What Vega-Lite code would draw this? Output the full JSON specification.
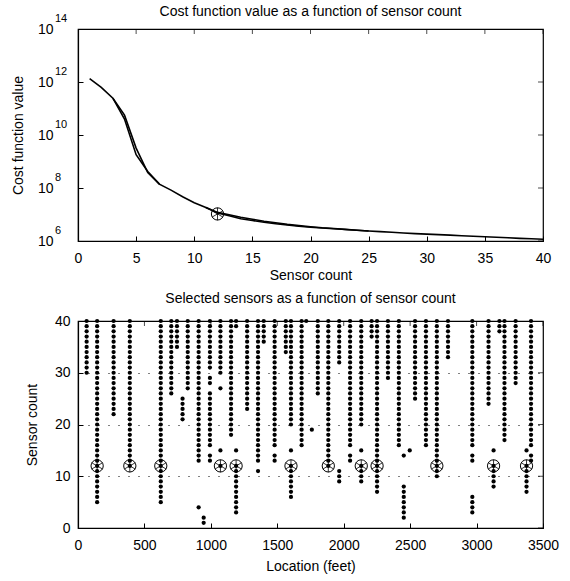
{
  "$schema": "https://vega.github.io/schema/vega-lite/v6.json",
  "background": "white",
  "padding": {"left": 10, "top": 4, "right": 5, "bottom": 5},
  "config": {
    "font": "Liberation Sans",
    "view": {"stroke": "black", "strokeWidth": 1.2},
    "axis": {"domainColor": "black", "tickColor": "black", "labelColor": "black", "titleColor": "black", "labelFontSize": 14, "titleFontSize": 14, "titleFontWeight": "normal", "tickSize": -5, "grid": false, "labelFlush": false, "labelFont": "Liberation Sans", "titleFont": "Liberation Sans", "domainWidth": 1.2},
    "title": {"fontSize": 14, "fontWeight": "normal", "color": "black", "font": "Liberation Sans"},
    "concat": {"spacing": 8}
  },
  "datasets": {
    "cost": [
      {"run": "a", "count": 1, "cost": 1.35e12}, {"run": "a", "count": 2, "cost": 6.3e11}, {"run": "a", "count": 3, "cost": 2.45e11}, {"run": "a", "count": 4, "cost": 4.0e10}, {"run": "a", "count": 5, "cost": 1.8e9}, {"run": "a", "count": 6, "cost": 4.2e8}, {"run": "a", "count": 7, "cost": 1.4e8}, {"run": "a", "count": 8, "cost": 8.3e7}, {"run": "a", "count": 9, "cost": 4.7e7}, {"run": "a", "count": 10, "cost": 2.8e7},
      {"run": "a", "count": 11, "cost": 1.85e7}, {"run": "a", "count": 12, "cost": 1.2e7}, {"run": "a", "count": 13, "cost": 9.8e6}, {"run": "a", "count": 14, "cost": 7.9e6}, {"run": "a", "count": 15, "cost": 6.6e6}, {"run": "a", "count": 16, "cost": 5.6e6}, {"run": "a", "count": 17, "cost": 4.9e6}, {"run": "a", "count": 18, "cost": 4.25e6}, {"run": "a", "count": 19, "cost": 3.8e6}, {"run": "a", "count": 20, "cost": 3.45e6},
      {"run": "a", "count": 21, "cost": 3.15e6}, {"run": "a", "count": 22, "cost": 2.95e6}, {"run": "a", "count": 23, "cost": 2.75e6}, {"run": "a", "count": 24, "cost": 2.55e6}, {"run": "a", "count": 25, "cost": 2.4e6}, {"run": "a", "count": 26, "cost": 2.25e6}, {"run": "a", "count": 27, "cost": 2.13e6}, {"run": "a", "count": 28, "cost": 2.0e6}, {"run": "a", "count": 29, "cost": 1.9e6}, {"run": "a", "count": 30, "cost": 1.82e6},
      {"run": "a", "count": 31, "cost": 1.74e6}, {"run": "a", "count": 32, "cost": 1.66e6}, {"run": "a", "count": 33, "cost": 1.58e6}, {"run": "a", "count": 34, "cost": 1.51e6}, {"run": "a", "count": 35, "cost": 1.45e6}, {"run": "a", "count": 36, "cost": 1.38e6}, {"run": "a", "count": 37, "cost": 1.32e6}, {"run": "a", "count": 38, "cost": 1.26e6}, {"run": "a", "count": 39, "cost": 1.22e6}, {"run": "a", "count": 40, "cost": 1.17e6},
      {"run": "b", "count": 3, "cost": 2.45e11}, {"run": "b", "count": 4, "cost": 5.6e10}, {"run": "b", "count": 5, "cost": 3.2e9}, {"run": "b", "count": 6, "cost": 3.8e8}, {"run": "b", "count": 7, "cost": 1.4e8},
      {"run": "c", "count": 11, "cost": 1.85e7}, {"run": "c", "count": 12, "cost": 1.15e7}, {"run": "c", "count": 13, "cost": 8.9e6}, {"run": "c", "count": 14, "cost": 6.9e6}, {"run": "c", "count": 15, "cost": 5.9e6}, {"run": "c", "count": 16, "cost": 5.1e6}, {"run": "c", "count": 17, "cost": 4.5e6}, {"run": "c", "count": 18, "cost": 4.0e6}, {"run": "c", "count": 19, "cost": 3.6e6}, {"run": "c", "count": 20, "cost": 3.3e6}, {"run": "c", "count": 22, "cost": 2.9e6}, {"run": "c", "count": 25, "cost": 2.4e6}
    ],
    "chosen": [{"count": 12, "cost": 1.05e7}],
    "ctick": [{"count": 0}, {"count": 5}, {"count": 10}, {"count": 15}, {"count": 20}, {"count": 25}, {"count": 30}, {"count": 35}, {"count": 40}],
    "exps": [{"cost": 1e6, "e": "6"}, {"cost": 1e8, "e": "8"}, {"cost": 1e10, "e": "10"}, {"cost": 1e12, "e": "12"}, {"cost": 1e14, "e": "14"}],
    "sel": [
      {"loc": 65, "n": [30,31,32,33,34,35,36,37,38,39,40]},
      {"loc": 144, "n": [5,6,7,8,9,10,11,12,13,14,15,16,17,18,19,20,21,22,23,24,25,26,27,28,29,30,31,32,33,34,35,36,37,38,39,40]},
      {"loc": 268, "n": [22,23,24,25,26,27,28,29,30,31,32,33,34,35,36,37,38,39,40]},
      {"loc": 390, "n": [12,13,14,15,16,17,18,19,20,21,22,23,24,25,26,27,28,29,30,31,32,33,34,35,36,37,38,39,40]},
      {"loc": 623, "n": [5,6,7,8,9,10,11,12,13,14,15,16,17,18,19,20,21,22,23,24,25,26,27,28,29,30,31,32,33,34,35,36,37,38,39,40]},
      {"loc": 702, "n": [26,27,28,29,30,31,32,33,34,35,36,37,38,39,40]},
      {"loc": 745, "n": [35,36,37,38,39,40]},
      {"loc": 787, "n": [21,22,23,24,25]},
      {"loc": 826, "n": [27,28,29,30,31,32,33,34,35,36,37,38,39,40]},
      {"loc": 908, "n": [4,13,14,15,16,17,18,19,20,21,22,23,24,25,26,27,28,29,30,31,32,33,34,35,36,37,38,39,40]},
      {"loc": 946, "n": [1,2]},
      {"loc": 993, "n": [13,14,16,17,18,19,20,21,22,23,24,25,26,28,29,31,32,33,34,35,36,37,38,39,40]},
      {"loc": 1072, "n": [12,15,27,30,31,32,33,34,35,36,37,38,39,40]},
      {"loc": 1152, "n": [18,19,20,21,22,23,24,25,26,27,28,29,30,31,32,33,34,35,36,37,38,39,40]},
      {"loc": 1190, "n": [3,4,5,6,7,8,9,10,11,12,15,39,40]},
      {"loc": 1273, "n": [23,24,25,26,27,28,29,30,31,32,33,34,35,36,37,38,39,40]},
      {"loc": 1355, "n": [11,13,14,15,16,17,18,19,20,21,22,23,24,25,26,27,28,29,30,31,32,33,34,35,36,37,38,39,40]},
      {"loc": 1398, "n": [36,37,38,39,40]},
      {"loc": 1480, "n": [13,14,16,17,18,19,20,21,22,23,24,25,26,27,28,29,30,31,32,33,34,35,36,37,38,39,40]},
      {"loc": 1564, "n": [34,35,36,37,38,39,40]},
      {"loc": 1603, "n": [6,7,8,9,10,11,12,15,20,21,22,23,24,25,26,27,28,29,30,31,32,33,34,35,36,37,38,39,40]},
      {"loc": 1683, "n": [16,17,18,19,20,21,22,23,24,25,26,27,28,29,30,31,32,33,34,35,36,37,38,39,40]},
      {"loc": 1718, "n": [40]},
      {"loc": 1760, "n": [19]},
      {"loc": 1805, "n": [26,27,28,29,30,31,32,33,34,35,36,37,38,39,40]},
      {"loc": 1884, "n": [12,13,14,15,16,17,18,19,20,21,22,23,24,25,26,27,28,29,30,31,32,33,34,35,36,37,38,39,40]},
      {"loc": 1966, "n": [9,10,11,32,33,34,35,36,37,38,39,40]},
      {"loc": 2048, "n": [13,14,16,17,18,19,20,21,22,23,24,25,26,27,28,29,30,31,32,33,34,35,36,37,38,39,40]},
      {"loc": 2132, "n": [9,10,11,12,15,20,21,22,23,24,25,26,27,28,29,30,31,32,33,34,35,36,37,38,39,40]},
      {"loc": 2210, "n": [37,38,39,40]},
      {"loc": 2251, "n": [7,8,9,10,11,12,13,14,15,16,17,18,19,20,21,22,23,24,25,26,27,28,29,30,31,32,33,34,35,36,37,38,39,40]},
      {"loc": 2333, "n": [29,30,31,32,33,34,35,36,37,38,39,40]},
      {"loc": 2415, "n": [16,17,18,19,20,21,22,23,24,25,26,27,28,29,30,31,32,33,34,35,36,37,38,39,40]},
      {"loc": 2452, "n": [2,3,4,5,6,7,8,14]},
      {"loc": 2497, "n": [15]},
      {"loc": 2537, "n": [25,26,27,28,29,30,31,32,33,34,35,36,37,38,39,40]},
      {"loc": 2619, "n": [16,17,18,19,20,21,22,23,24,25,26,27,28,29,30,31,32,33,34,35,36,37,38,39,40]},
      {"loc": 2701, "n": [10,11,12,13,14,15,16,17,18,19,20,21,22,23,24,25,26,27,28,29,30,31,32,33,34,35,36,37,38,39,40]},
      {"loc": 2785, "n": [33,34,35,36,37,38,39,40]},
      {"loc": 2968, "n": [3,4,5,6,13,14,16,17,18,19,20,21,22,23,24,25,26,27,28,29,30,31,32,33,34,35,36,37,38,39,40]},
      {"loc": 3090, "n": [24,25,26,27,28,29,30,31,32,33,34,35,36,37,38,39,40]},
      {"loc": 3128, "n": [8,9,10,11,12,15]},
      {"loc": 3172, "n": [38,39,40]},
      {"loc": 3210, "n": [17,18,19,20,21,22,23,24,25,26,27,28,29,30,31,32,33,34,35,36,37,38,39,40]},
      {"loc": 3294, "n": [28,29,30,31,32,33,34,35,36,37,38,39,40]},
      {"loc": 3376, "n": [7,8,9,10,11,12,15]},
      {"loc": 3410, "n": [13,14,16,17,18,19,20,21,22,23,24,25,26,27,28,29,30,31,32,33,34,35,36,37,38,39,40]}
    ],
    "picks": [{"loc": 144, "n": 12}, {"loc": 390, "n": 12}, {"loc": 623, "n": 12}, {"loc": 1072, "n": 12}, {"loc": 1190, "n": 12}, {"loc": 1603, "n": 12}, {"loc": 1884, "n": 12}, {"loc": 2132, "n": 12}, {"loc": 2251, "n": 12}, {"loc": 2701, "n": 12}, {"loc": 3128, "n": 12}, {"loc": 3376, "n": 12}],
    "ltick": [{"loc": 0}, {"loc": 500}, {"loc": 1000}, {"loc": 1500}, {"loc": 2000}, {"loc": 2500}, {"loc": 3000}, {"loc": 3500}],
    "ntick": [{"n": 0}, {"n": 10}, {"n": 20}, {"n": 30}, {"n": 40}]
  },
  "vconcat": [
    {
      "title": {"text": "Cost function value as a function of sensor count", "offset": -6},
      "width": 465,
      "height": 212,
      "layer": [
        {
          "data": {"name": "cost"},
          "mark": {"type": "line", "color": "black", "strokeWidth": 1.6},
          "encoding": {
            "x": {"field": "count", "type": "quantitative", "scale": {"domain": [0, 40], "nice": false}, "axis": {"title": "Sensor count", "values": [0, 5, 10, 15, 20, 25, 30, 35, 40], "labelPadding": 15, "titlePadding": 3, "format": "d"}},
            "y": {"field": "cost", "type": "quantitative", "scale": {"type": "log", "domain": [1e6, 1e14], "nice": false}, "axis": {"title": "Cost function value", "values": [1e6, 1e8, 1e10, 1e12, 1e14], "labelExpr": "'10'", "labelPadding": 30, "titlePadding": 12}},
            "detail": {"field": "run"}
          }
        },
        {
          "data": {"name": "ctick"},
          "mark": {"type": "tick", "orient": "vertical", "size": 10, "thickness": 1, "color": "black", "clip": true},
          "encoding": {"x": {"field": "count", "type": "quantitative"}, "y": {"datum": 1e14, "type": "quantitative"}}
        },
        {
          "data": {"name": "exps"},
          "mark": {"type": "tick", "orient": "horizontal", "size": 10, "thickness": 1, "color": "black", "clip": true},
          "encoding": {"y": {"field": "cost", "type": "quantitative"}, "x": {"datum": 40, "type": "quantitative"}}
        },
        {
          "data": {"name": "exps"},
          "mark": {"type": "text", "align": "left", "baseline": "alphabetic", "dx": -23, "dy": -7, "fontSize": 11, "color": "black"},
          "encoding": {
            "x": {"datum": 0, "type": "quantitative"},
            "y": {"field": "cost", "type": "quantitative"},
            "text": {"field": "e"}
          }
        },
        {
          "data": {"name": "chosen"},
          "mark": {"type": "point", "shape": "circle", "size": 150, "filled": false, "color": "black", "strokeWidth": 1, "opacity": 1},
          "encoding": {"x": {"field": "count", "type": "quantitative"}, "y": {"field": "cost", "type": "quantitative"}}
        },
        {
          "data": {"name": "chosen"},
          "mark": {"type": "point", "shape": "M0,-1L0,1M-0.866,-0.5L0.866,0.5M-0.866,0.5L0.866,-0.5", "size": 160, "filled": false, "color": "black", "strokeWidth": 0.8, "opacity": 1},
          "encoding": {"x": {"field": "count", "type": "quantitative"}, "y": {"field": "cost", "type": "quantitative"}}
        }
      ]
    },
    {
      "title": {"text": "Selected sensors as a function of sensor count", "offset": 8},
      "width": 465,
      "height": 207,
      "layer": [
        {
          "data": {"name": "sel"},
          "transform": [{"flatten": ["n"]}],
          "mark": {"type": "point", "shape": "circle", "filled": true, "color": "black", "size": 18, "opacity": 1},
          "encoding": {
            "x": {"field": "loc", "type": "quantitative", "scale": {"domain": [0, 3500], "nice": false}, "axis": {"title": "Location (feet)", "values": [0, 500, 1000, 1500, 2000, 2500, 3000, 3500], "labelPadding": 15, "titlePadding": 7, "format": "d"}},
            "y": {"field": "n", "type": "quantitative", "scale": {"domain": [0, 40], "nice": false}, "axis": {"title": "Sensor count", "values": [0, 10, 20, 30, 40], "labelPadding": 13, "titlePadding": 15, "format": "d", "grid": true, "gridColor": "black", "gridDash": [1, 9], "gridWidth": 1}}
          }
        },
        {
          "data": {"name": "ltick"},
          "mark": {"type": "tick", "orient": "vertical", "size": 10, "thickness": 1, "color": "black", "clip": true},
          "encoding": {"x": {"field": "loc", "type": "quantitative"}, "y": {"datum": 40, "type": "quantitative"}}
        },
        {
          "data": {"name": "ntick"},
          "mark": {"type": "tick", "orient": "horizontal", "size": 10, "thickness": 1, "color": "black", "clip": true},
          "encoding": {"y": {"field": "n", "type": "quantitative"}, "x": {"datum": 3500, "type": "quantitative"}}
        },
        {
          "data": {"name": "picks"},
          "mark": {"type": "point", "shape": "circle", "size": 150, "filled": false, "color": "black", "strokeWidth": 1, "opacity": 1},
          "encoding": {"x": {"field": "loc", "type": "quantitative"}, "y": {"field": "n", "type": "quantitative"}}
        },
        {
          "data": {"name": "picks"},
          "mark": {"type": "point", "shape": "M0,-1L0,1M-0.866,-0.5L0.866,0.5M-0.866,0.5L0.866,-0.5", "size": 160, "filled": false, "color": "black", "strokeWidth": 0.8, "opacity": 1},
          "encoding": {"x": {"field": "loc", "type": "quantitative"}, "y": {"field": "n", "type": "quantitative"}}
        }
      ]
    }
  ]
}
